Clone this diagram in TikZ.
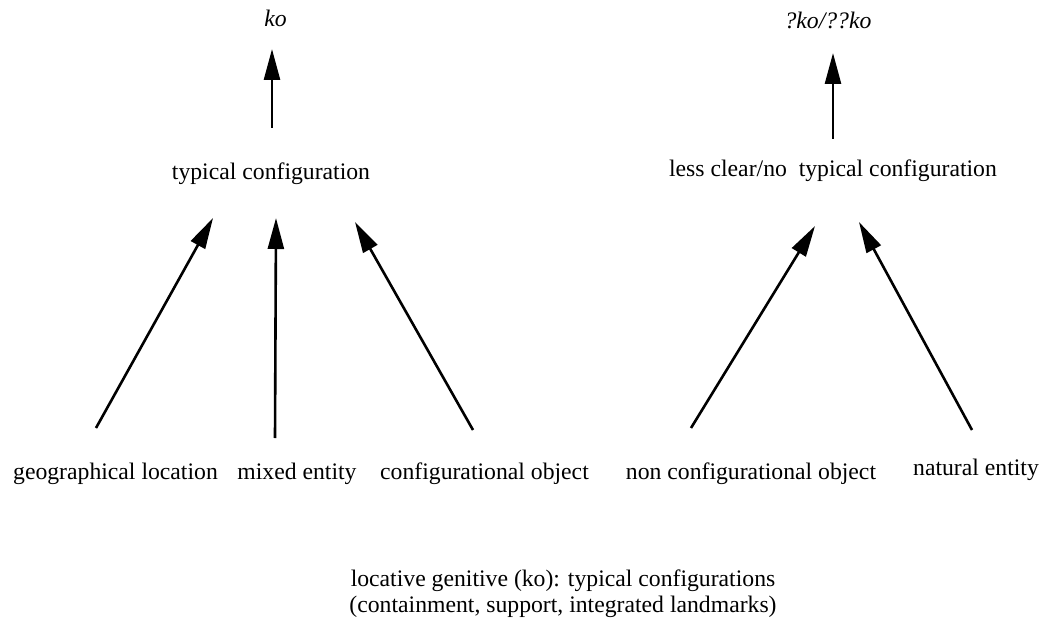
\documentclass[tikz,border=0pt]{standalone}
\usepackage{fontspec}
\setmainfont{Liberation Serif}
\usetikzlibrary{arrows.meta}
\begin{document}
\begin{tikzpicture}[x=1pt,y=-1pt,
  lbl/.style={inner sep=0pt, anchor=base, font=\fontsize{23.7}{26}\selectfont},
  arr/.style={line width=2.6pt, -{Triangle[length=31pt,width=16pt]}}]
\useasboundingbox (0,0) rectangle (1042,623);
% top labels
\node[lbl, font=\fontsize{23.7}{26}\selectfont\itshape] (ko) at (275.5,27) {ko};
\node[lbl, font=\fontsize{23.7}{26}\selectfont\itshape] (qko) at (828,29) {?ko/??ko};
% middle labels
\node[lbl] (typ) at (271,179) {typical configuration};
\node[lbl] (less) at (833,177) {less clear/no\ \ typical configuration};
% bottom labels
\node[lbl] (geo) at (115.5,479) {geographical location};
\node[lbl] (mix) at (297,479) {mixed entity};
\node[lbl] (conf) at (484.5,479) {configurational object};
\node[lbl] (nonconf) at (751,479) {non configurational object};
\node[lbl] (nat) at (976,475) {natural entity};
% caption (base anchor = baseline of the last line)
\node[lbl, align=center] (cap) at (563,612) {locative genitive (ko): typical configurations\\(containment, support, integrated landmarks)};
% arrow end points
\coordinate (kolow) at (272,128);
\coordinate (kotip) at (272,49);
\coordinate (qlow) at (833,139);
\coordinate (qtip) at (833,53);
\coordinate (geos) at (96,428);
\coordinate (geot) at (213,218);
\coordinate (mixs) at (275,438);
\coordinate (mixt) at (276,218);
\coordinate (confs) at (473,430);
\coordinate (conft) at (355,222);
\coordinate (ncs) at (691,428);
\coordinate (nct) at (815,226);
\coordinate (nats) at (972,430);
\coordinate (natt) at (859,222);
% arrows
\draw[arr] (kolow) -- (kotip);
\draw[arr] (qlow) -- (qtip);
\draw[arr] (geos) -- (geot);
\draw[arr] (mixs) -- (mixt);
\draw[arr] (confs) -- (conft);
\draw[arr] (ncs) -- (nct);
\draw[arr] (nats) -- (natt);
\end{tikzpicture}
\end{document}
